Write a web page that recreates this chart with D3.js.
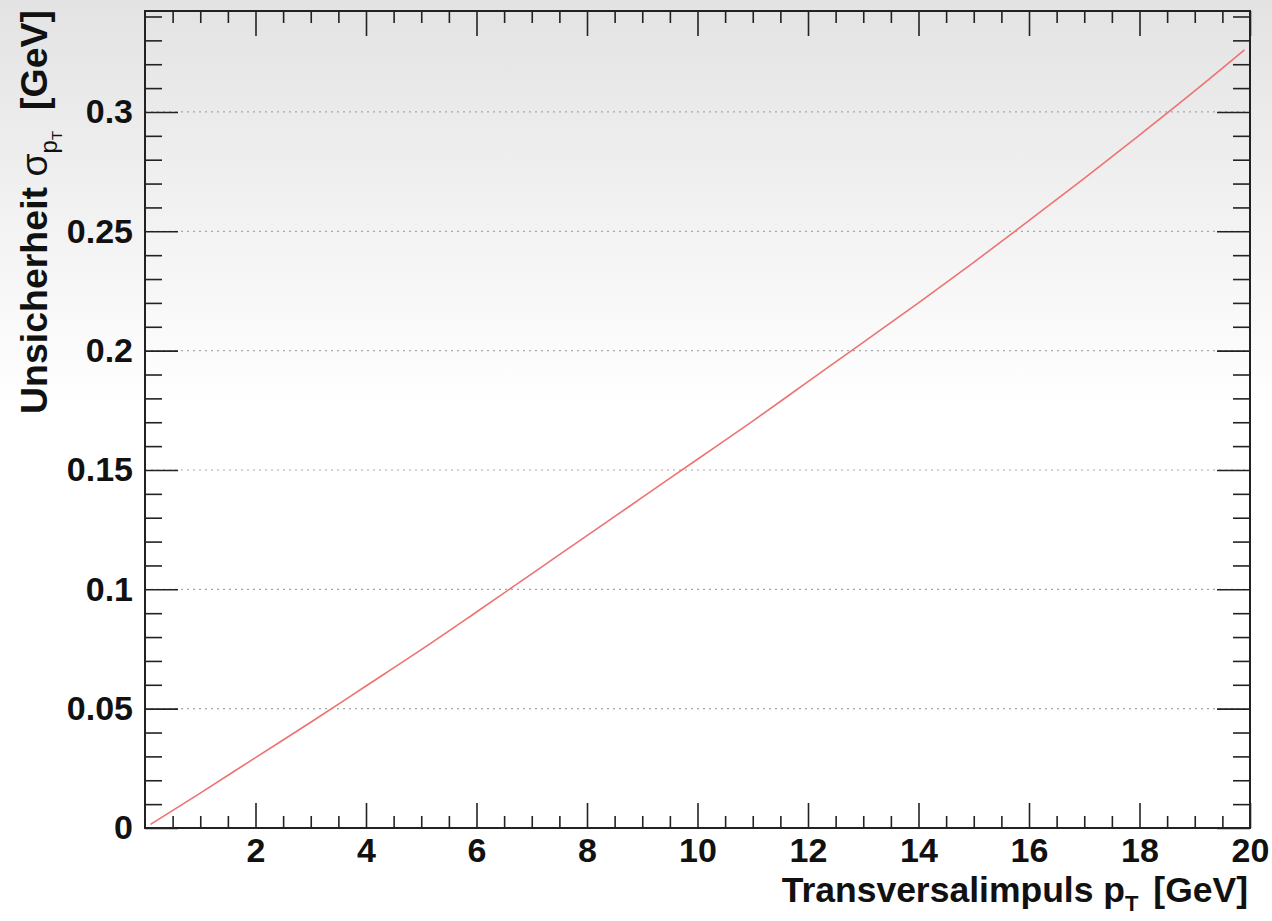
<!DOCTYPE html>
<html>
<head>
<meta charset="utf-8">
<script src="https://cdn.jsdelivr.net/npm/d3@7"></script>
<style>
  html, body { margin: 0; padding: 0; background: #fff; }
  text { font-family: "Liberation Sans", Arial, sans-serif; white-space: pre; }
</style>
</head>
<body>
<div id="chart"></div>
<script>
// values
const ptValues = [0.1, 1, 2, 3, 4, 5, 6, 7, 8, 9, 10, 11, 12, 13, 14, 15, 16, 17, 18, 19, 19.9];
const sigmaValues = [0.0015, 0.0146, 0.0295, 0.0443, 0.0595, 0.0747, 0.0905, 0.1065, 0.1225, 0.1385,
  0.1545, 0.1705, 0.187, 0.2035, 0.22, 0.237, 0.2545, 0.2722, 0.2903, 0.3088, 0.326];
const xTickLabels = ["2", "4", "6", "8", "10", "12", "14", "16", "18", "20"];
const yTickLabels = ["0", "0.05", "0.1", "0.15", "0.2", "0.25", "0.3"];

const W = 1272, H = 921;
const plotL = 145, plotR = 1250, plotT = 11, plotB = 828;

const svg = d3.select("#chart").append("svg")
  .attr("width", W).attr("height", H);

// background gradient
const grad = svg.append("defs").append("linearGradient")
  .attr("id", "bg").attr("x1", 0).attr("y1", 0).attr("x2", 0).attr("y2", 1);
grad.append("stop").attr("offset", "0").attr("stop-color", "#e3e3e3");
grad.append("stop").attr("offset", "0.44").attr("stop-color", "#ffffff");
grad.append("stop").attr("offset", "1").attr("stop-color", "#ffffff");
svg.append("rect").attr("width", W).attr("height", H).attr("fill", "url(#bg)");

const x = d3.scaleLinear().domain([0, 20]).range([plotL, plotR]);
const y = d3.scaleLinear().domain([0, 0.3423]).range([plotB, plotT]);

const xMajor = xTickLabels.map(Number);
const yMajor = yTickLabels.map(Number);
const xMinor = d3.range(0, 20.001, 0.5).filter(v => Math.abs(v / 2 - Math.round(v / 2)) > 1e-6);
const yMinor = d3.range(0, 0.3423, 0.01).filter(v => Math.abs(v / 0.05 - Math.round(v / 0.05)) > 1e-6);

// grid lines (dotted, horizontal only)
svg.append("g").selectAll("line")
  .data(yMajor.filter(v => v > 0))
  .enter().append("line")
  .attr("x1", plotL).attr("x2", plotR)
  .attr("y1", d => y(d)).attr("y2", d => y(d))
  .attr("stroke", "#a8a8a8").attr("stroke-width", 1.2)
  .attr("stroke-dasharray", "2,4");

function styleAxis(g) {
  g.select(".domain").remove();
  g.selectAll(".tick line").attr("stroke", "#222").attr("stroke-width", 1.6);
  g.selectAll(".tick text")
    .attr("fill", "#111")
    .style("font-size", "34px").style("font-weight", "bold");
}

// bottom axis
svg.append("g").attr("transform", `translate(0,${plotB})`)
  .call(d3.axisBottom(x).tickValues(xMajor).tickSize(-25).tickPadding(10)
    .tickFormat((d, i) => xTickLabels[i]))
  .call(styleAxis);
svg.append("g").attr("transform", `translate(0,${plotB})`)
  .call(d3.axisBottom(x).tickValues(xMinor).tickSize(-12).tickFormat(""))
  .call(styleAxis);
// top axis
svg.append("g").attr("transform", `translate(0,${plotT})`)
  .call(d3.axisTop(x).tickValues(xMajor).tickSize(-25).tickFormat(""))
  .call(styleAxis);
svg.append("g").attr("transform", `translate(0,${plotT})`)
  .call(d3.axisTop(x).tickValues(xMinor).tickSize(-12).tickFormat(""))
  .call(styleAxis);
// left axis
svg.append("g").attr("transform", `translate(${plotL},0)`)
  .call(d3.axisLeft(y).tickValues(yMajor).tickSize(-33).tickPadding(12)
    .tickFormat((d, i) => yTickLabels[i]))
  .call(styleAxis);
svg.append("g").attr("transform", `translate(${plotL},0)`)
  .call(d3.axisLeft(y).tickValues(yMinor).tickSize(-17).tickFormat(""))
  .call(styleAxis);
// right axis
svg.append("g").attr("transform", `translate(${plotR},0)`)
  .call(d3.axisRight(y).tickValues(yMajor).tickSize(-33).tickFormat(""))
  .call(styleAxis);
svg.append("g").attr("transform", `translate(${plotR},0)`)
  .call(d3.axisRight(y).tickValues(yMinor).tickSize(-17).tickFormat(""))
  .call(styleAxis);

// frame
svg.append("rect")
  .attr("x", plotL).attr("y", plotT)
  .attr("width", plotR - plotL).attr("height", plotB - plotT)
  .attr("fill", "none").attr("stroke", "#222").attr("stroke-width", 2);

// curve
const data = ptValues.map((p, i) => [p, sigmaValues[i]]);
svg.append("path")
  .datum(data)
  .attr("fill", "none")
  .attr("stroke", "#ee7272")
  .attr("stroke-width", 1.6)
  .attr("d", d3.line().x(d => x(d[0])).y(d => y(d[1])).curve(d3.curveMonotoneX));

// x title
const xt = svg.append("text")
  .attr("x", plotR - 2).attr("y", 902)
  .attr("text-anchor", "end")
  .style("font-size", "35.5px").style("font-weight", "bold").attr("fill", "#111");
xt.append("tspan").text("Transversalimpuls p");
xt.append("tspan").attr("dy", 9).style("font-size", "22px").text("T");
xt.append("tspan").attr("dy", -9).attr("dx", 5).text(" [GeV]");

// y title
const yt = svg.append("text")
  .attr("transform", "translate(47,10) rotate(-90)")
  .attr("text-anchor", "end")
  .style("font-size", "37.5px").style("font-weight", "bold").attr("fill", "#111");
yt.append("tspan").text("Unsicherheit ");
yt.append("tspan").style("font-weight", "normal").text("σ");
yt.append("tspan").attr("dy", 10).style("font-size", "24px").style("font-weight", "normal").text("p");
yt.append("tspan").attr("dy", 5).style("font-size", "15px").style("font-weight", "normal").text("T");
yt.append("tspan").attr("dy", -15).text("  [GeV]");
</script>
</body>
</html>
